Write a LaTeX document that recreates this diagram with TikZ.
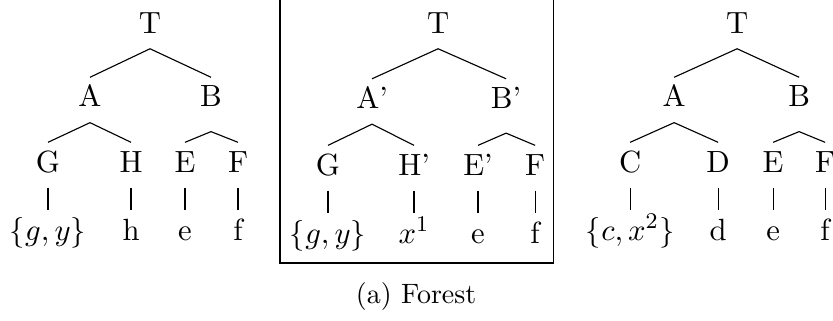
\documentclass[tikz,border=0pt]{standalone}
\usepackage{amsmath}
\usepackage{tikz}

\begin{document}
\begin{tikzpicture}[
		tn/.style={inner sep=0pt, text height=10.4pt, text depth=5.4pt, anchor=base,
			font=\fontsize{10.95}{13.6}\selectfont},
		frm/.style={draw, line width=0.4pt},
		capt/.style={anchor=base, inner sep=0pt}
		]
		\useasboundingbox (0,0) rectangle (10.45,4.015);

		% left tree
		\node[tn] (t1) at (1.882,3.600) {T};
		\node[tn] (a1) at (1.129,2.673) {A};
		\node[tn] (b1) at (2.647,2.673) {B};
		\node[tn] (g1) at (0.602,1.857) {G};
		\node[tn] (h1) at (1.644,1.857) {H};
		\node[tn] (e1) at (2.321,1.857) {E};
		\node[tn] (f1) at (2.986,1.857) {F};
		\node[tn] (lg1) at (0.602,1.004) {$\{g,y\}$};
		\node[tn] (lh1) at (1.644,1.004) {h};
		\node[tn] (le1) at (2.321,1.004) {e};
		\node[tn] (lf1) at (2.986,1.004) {f};

		\draw (a1.north) -- (t1.south) -- (b1.north);
		\draw (g1.north) -- (a1.south) -- (h1.north);
		\draw (e1.north) -- ([yshift=-3.2pt]b1.south) -- (f1.north);
		\foreach \n in {g1,h1,e1,f1}
			\draw (\n.south) -- (l\n.north);

		% middle tree (framed)
		\node[tn] (t2) at (5.496,3.600) {T};
		\node[tn] (a2) at (4.667,2.654) {A'};
		\node[tn] (b2) at (6.349,2.654) {B'};
		\node[tn] (g2) at (4.115,1.819) {G};
		\node[tn] (h2) at (5.194,1.819) {H'};
		\node[tn] (e2) at (5.997,1.819) {E'};
		\node[tn] (f2) at (6.713,1.819) {F};
		\node[tn] (lg2) at (4.115,0.966) {$\{g,y\}$};
		\node[tn] (lh2) at (5.194,0.966) {$x^1$};
		\node[tn] (le2) at (5.997,0.966) {e};
		\node[tn] (lf2) at (6.713,0.966) {f};

		\draw (a2.north) -- (t2.south) -- (b2.north);
		\draw (g2.north) -- (a2.south) -- (h2.north);
		\draw (e2.north) -- ([yshift=-3.2pt]b2.south) -- (f2.north);
		\foreach \n in {g2,h2,e2,f2}
			\draw (\n.south) -- (l\n.north);

		\draw[frm] (3.513,0.715) rectangle (6.939,4.06);

		% right tree
		\node[tn] (t3) at (9.247,3.600) {T};
		\node[tn] (a3) at (8.457,2.673) {A};
		\node[tn] (b3) at (10.025,2.673) {B};
		\node[tn] (c3) at (7.905,1.857) {C};
		\node[tn] (d3) at (9.009,1.857) {D};
		\node[tn] (e3) at (9.699,1.857) {E};
		\node[tn] (f3) at (10.351,1.857) {F};
		\node[tn] (lc3) at (7.905,1.004) {$\{c,x^2\}$};
		\node[tn] (ld3) at (9.009,1.004) {d};
		\node[tn] (le3) at (9.699,1.004) {e};
		\node[tn] (lf3) at (10.351,1.004) {f};

		\draw (a3.north) -- (t3.south) -- (b3.north);
		\draw (c3.north) -- (a3.south) -- (d3.north);
		\draw (e3.north) -- ([yshift=-3.2pt]b3.south) -- (f3.north);
		\foreach \n in {c3,d3,e3,f3}
			\draw (\n.south) -- (l\n.north);

		\node[capt] (cap) at (5.220,0.213) {(a) Forest};
\end{tikzpicture}
\end{document}
